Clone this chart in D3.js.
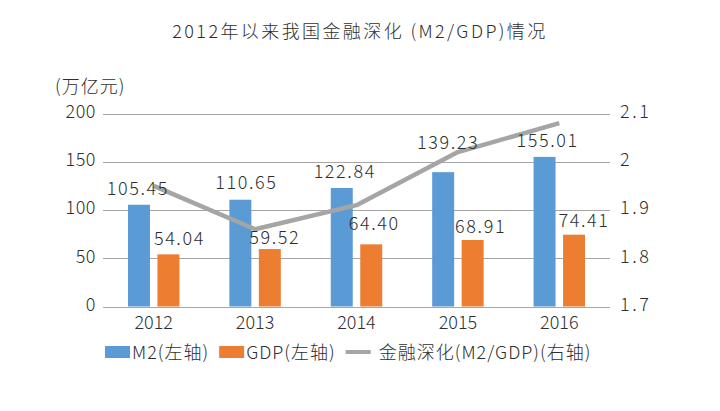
<!DOCTYPE html>
<html>
<head>
<meta charset="utf-8">
<script src="https://cdn.jsdelivr.net/npm/d3@7/dist/d3.min.js"></script>
<style>
  html, body { margin: 0; padding: 0; background: #fff; }
  svg { display: block; }
  text { font-family: "Noto Sans CJK SC", "Noto Sans", sans-serif; fill: #2e2e2e; font-weight: 300; }
</style>
</head>
<body>
<svg id="chart" width="720" height="411"></svg>
<script>
// ---- data ----
const categories = ["2012", "2013", "2014", "2015", "2016"];
const m2Values = [105.45, 110.65, 122.84, 139.23, 155.01];
const gdpValues = [54.04, 59.52, 64.40, 68.91, 74.41];
const depthValues = [1.95, 1.86, 1.91, 2.02, 2.08];
const leftTicks = [0, 50, 100, 150, 200];
const rightTicks = [1.7, 1.8, 1.9, 2.0, 2.1];
const seriesNames = ["M2(左轴)", "GDP(左轴)", "金融深化(M2/GDP)(右轴)"];
const titleText = "2012年以来我国金融深化 (M2/GDP)情况";
const unitText = "(万亿元)";

// label nudges (manual placement like the original)
const m2LabelDx = [-1, 6, 3, 5, 3];
const m2LabelLift = [10, 11, 10, 23, 10];
const gdpLabelDx = [11, 5, 3, 8, 10];
const gdpLabelLift = [9, 5, 14, 7, 8];

const colors = { m2: "#5b9bd5", gdp: "#ed7d31", line: "#a5a5a5", grid: "#a6a6a6" };

const svg = d3.select("#chart");
const plot = { left: 103, right: 610, top: 113.5, bottom: 306.5 };

const x0 = d3.scaleBand().domain(categories).range([plot.left, plot.right])
  .paddingInner(0.4926).paddingOuter(0.2463);
const x1 = d3.scaleBand().domain(["m2", "gdp"]).range([0, x0.bandwidth()])
  .paddingInner(0.254).paddingOuter(0);
const yL = d3.scaleLinear().domain([0, 200]).range([plot.bottom, plot.top]);
const yR = d3.scaleLinear().domain([1.7, 2.1]).range([plot.bottom, plot.top]);
const xc = c => x0(c) + x0.bandwidth() / 2;

// title
svg.append("text").attr("x", 360).attr("y", 38).attr("text-anchor", "middle")
  .style("font-size", "18px").style("letter-spacing", "2.4px").text(titleText);

// unit
svg.append("text").attr("x", 55).attr("y", 93)
  .style("font-size", "18px").style("letter-spacing", "1px").text(unitText);

// gridlines
svg.append("g").selectAll("line").data(leftTicks).join("line")
  .attr("x1", plot.left).attr("x2", plot.right)
  .attr("y1", d => Math.round(yL(d)) + 0.5).attr("y2", d => Math.round(yL(d)) + 0.5)
  .attr("stroke", colors.grid).attr("stroke-width", 1);

const axisTextStyle = sel => sel.style("font-size", "18px")
  .style("font-family", "'Noto Sans CJK SC', sans-serif").style("font-weight", "300").attr("fill", "#2e2e2e");

// left axis
const axL = svg.append("g").attr("transform", `translate(${plot.left},0)`)
  .call(d3.axisLeft(yL).tickValues(leftTicks).tickSize(0).tickPadding(7).tickFormat(d3.format("d")));
axL.select(".domain").remove();
axL.selectAll("text").call(axisTextStyle).attr("dy", "0.22em").style("letter-spacing", "0.5px");

// right axis
const axR = svg.append("g").attr("transform", `translate(${plot.right},0)`)
  .call(d3.axisRight(yR).tickValues(rightTicks).tickSize(0).tickPadding(10).tickFormat(d => d === 2 ? "2" : d3.format(".1f")(d)));
axR.select(".domain").remove();
axR.selectAll("text").call(axisTextStyle).attr("dy", "0.22em").style("letter-spacing", "2.5px");

// bottom axis
const axB = svg.append("g").attr("transform", `translate(0,${plot.bottom})`)
  .call(d3.axisBottom(x0).tickSize(0).tickPadding(10));
axB.select(".domain").remove();
axB.selectAll("text").call(axisTextStyle).attr("dy", "0.72em");

// bars
const gBars = svg.append("g");
gBars.selectAll("rect.m2").data(categories).join("rect").attr("class", "m2")
  .attr("x", (c) => x0(c) + x1("m2")).attr("width", x1.bandwidth())
  .attr("y", (c, i) => yL(m2Values[i])).attr("height", (c, i) => yL(0) - yL(m2Values[i]))
  .attr("fill", colors.m2);
gBars.selectAll("rect.gdp").data(categories).join("rect").attr("class", "gdp")
  .attr("x", (c) => x0(c) + x1("gdp")).attr("width", x1.bandwidth())
  .attr("y", (c, i) => yL(gdpValues[i])).attr("height", (c, i) => yL(0) - yL(gdpValues[i]))
  .attr("fill", colors.gdp);

// line
const line = d3.line().x((d, i) => xc(categories[i])).y(d => yR(d));
svg.append("path").datum(depthValues).attr("d", line)
  .attr("fill", "none").attr("stroke", colors.line).attr("stroke-width", 4.5)
  .attr("stroke-linejoin", "round").attr("stroke-linecap", "butt");

// data labels
const gLab = svg.append("g").style("font-size", "18px").style("letter-spacing", "1.6px");
gLab.selectAll("text.m2").data(categories).join("text").attr("class", "m2")
  .attr("text-anchor", "middle")
  .attr("x", (c, i) => x0(c) + x1("m2") + x1.bandwidth() / 2 + m2LabelDx[i])
  .attr("y", (c, i) => yL(m2Values[i]) - m2LabelLift[i])
  .text((c, i) => d3.format(".2f")(m2Values[i]));
gLab.selectAll("text.gdp").data(categories).join("text").attr("class", "gdp")
  .attr("text-anchor", "middle")
  .attr("x", (c, i) => x0(c) + x1("gdp") + x1.bandwidth() / 2 + gdpLabelDx[i])
  .attr("y", (c, i) => yL(gdpValues[i]) - gdpLabelLift[i])
  .text((c, i) => d3.format(".2f")(gdpValues[i]));

// legend
const leg = svg.append("g");
let lx = 105;
const ly = 352;
const legendItems = [
  { name: seriesNames[0], type: "rect", color: colors.m2 },
  { name: seriesNames[1], type: "rect", color: colors.gdp },
  { name: seriesNames[2], type: "line", color: colors.line }
];
legendItems.forEach((it) => {
  if (it.type === "rect") {
    leg.append("rect").attr("x", lx).attr("y", ly - 6).attr("width", 25).attr("height", 12).attr("fill", it.color);
    lx += 27;
  } else {
    leg.append("line").attr("x1", lx).attr("x2", lx + 25).attr("y1", ly).attr("y2", ly)
      .attr("stroke", it.color).attr("stroke-width", 4);
    lx += 33;
  }
  const t = leg.append("text").attr("x", lx).attr("y", ly + 7)
    .style("font-size", "18px").style("letter-spacing", "1px").text(it.name);
  lx += t.node().getComputedTextLength() + 10;
});
</script>
</body>
</html>
